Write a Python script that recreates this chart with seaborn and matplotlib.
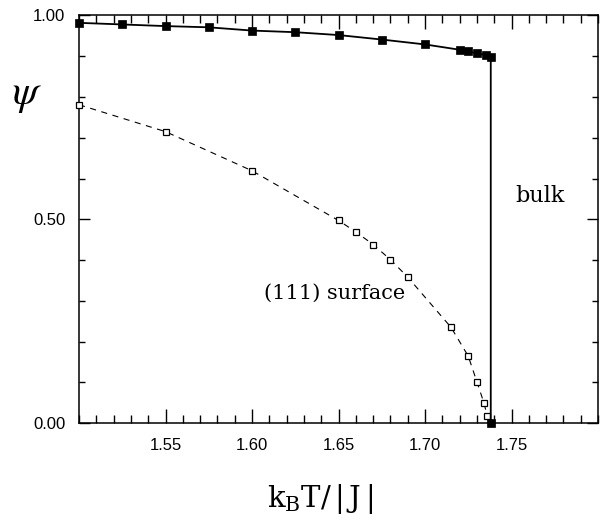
import matplotlib
matplotlib.use("Agg")
import matplotlib.pyplot as plt
import pandas as pd
import seaborn as sns
from matplotlib.ticker import FixedLocator, MultipleLocator, FormatStrFormatter

# Order parameter psi vs reduced temperature k_B T/|J|
bulk_T = [1.500, 1.525, 1.550, 1.575, 1.600, 1.625, 1.650, 1.675, 1.700,
          1.720, 1.725, 1.730, 1.735, 1.738, 1.738]
bulk_psi = [0.982, 0.978, 0.974, 0.971, 0.963, 0.959, 0.952, 0.941, 0.929,
            0.916, 0.912, 0.907, 0.903, 0.898, 0.000]

surf_T = [1.500, 1.550, 1.600, 1.650, 1.660, 1.670, 1.680, 1.690, 1.715,
          1.725, 1.730, 1.734, 1.736, 1.738]
surf_psi = [0.781, 0.715, 0.619, 0.497, 0.469, 0.438, 0.401, 0.358, 0.235,
            0.164, 0.101, 0.050, 0.017, 0.000]

x_ticks = [1.55, 1.60, 1.65, 1.70, 1.75]
y_ticks = [0.00, 0.50, 1.00]

bulk = pd.DataFrame({"T": bulk_T, "psi": bulk_psi})
surf = pd.DataFrame({"T": surf_T, "psi": surf_psi})

sns.set_style("ticks")
plt.rcParams["font.family"] = ["Liberation Sans", "DejaVu Sans"]

fig = plt.figure(figsize=(6.0, 5.2), dpi=100)
ax = fig.add_axes([0.1317, 0.1865, 0.865, 0.7837])

# (111) surface: dashed line with open squares
sns.lineplot(data=surf, x="T", y="psi", ax=ax, estimator=None, sort=False,
             color="black", linewidth=0.8, linestyle=(0, (5.5, 5.0)),
             marker="s", markersize=4.4, markerfacecolor="white",
             markeredgecolor="black", markeredgewidth=0.9, zorder=3,
             clip_on=False)

# bulk: solid line with filled squares, dropping to zero at the transition
sns.lineplot(data=bulk, x="T", y="psi", ax=ax, estimator=None, sort=False,
             color="black", linewidth=1.3, linestyle="-",
             marker="s", markersize=5.6, markerfacecolor="black",
             markeredgecolor="black", markeredgewidth=0.5, zorder=4,
             clip_on=False)

ax.set_xlim(1.50, 1.80)
ax.set_ylim(0.0, 1.0)

ax.xaxis.set_major_locator(FixedLocator(x_ticks))
ax.xaxis.set_minor_locator(MultipleLocator(0.01))
ax.xaxis.set_major_formatter(FormatStrFormatter("%.2f"))
ax.yaxis.set_major_locator(FixedLocator(y_ticks))
ax.yaxis.set_minor_locator(MultipleLocator(0.1))
ax.yaxis.set_major_formatter(FormatStrFormatter("%.2f"))

ax.tick_params(axis="both", which="both", direction="in",
               top=True, right=True, color="black", width=1.0,
               labelsize=12, labelcolor="black")
ax.tick_params(axis="x", which="major", length=10, pad=11)
ax.tick_params(axis="x", which="minor", length=5.5)
ax.tick_params(axis="y", which="major", length=8, pad=10)
ax.tick_params(axis="y", which="minor", length=4)

for side in ("left", "right", "top", "bottom"):
    ax.spines[side].set_visible(True)
    ax.spines[side].set_color("black")
    ax.spines[side].set_linewidth(1.1)

ax.set_xlabel("")
ax.set_ylabel("")

ax.text(1.7665, 0.557, "bulk", ha="center", va="center",
        fontsize=16, family="DejaVu Serif", color="black")
ax.text(1.648, 0.318, "(111) surface", ha="center", va="center",
        fontsize=15, family="DejaVu Serif", color="black")

fig.text(0.045, 1 - 95 / 520, r"$\psi$", ha="center", va="center",
         fontsize=30, math_fontfamily="stix", color="black")
fig.text(0.533, 1 - 507 / 520, r"$\mathrm{k_B T/\,|\,J\,|}$",
         ha="center", va="baseline", fontsize=21,
         math_fontfamily="dejavuserif", color="black")

fig.savefig("out.png", dpi=100, facecolor="white")
